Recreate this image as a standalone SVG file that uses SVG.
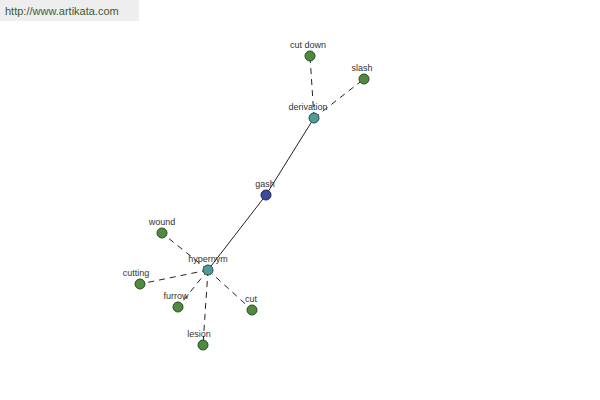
<svg xmlns="http://www.w3.org/2000/svg" width="600" height="400" viewBox="0 0 600 400">
<style>
text{font-family:"Liberation Sans",Arial,sans-serif;font-size:9px;fill:#333;text-anchor:middle}
.leaf{fill:#4f8a3f;stroke:#2a4a22;stroke-width:1}
.hub{fill:#4f9a9a;stroke:#2a4a4a;stroke-width:1}
.root{fill:#3b4a9a;stroke:#1e2550;stroke-width:1}
.solid{stroke:#222;stroke-width:1;fill:none}
.dash{stroke:#222;stroke-width:1;stroke-dasharray:6,5;fill:none}
</style>
<rect width="600" height="400" fill="#fff"/>
<rect x="0" y="0" width="139" height="21" fill="#eeeeee"/>
<text x="5" y="15" style="text-anchor:start;font-size:11px;fill:#3e5a32">http://www.artikata.com</text>
<g id="connectors">
<line class="solid" x1="266" y1="195" x2="314" y2="118"/>
<line class="solid" x1="266" y1="195" x2="208" y2="270"/>
<line class="dash" x1="314" y1="118" x2="310" y2="56"/>
<line class="dash" x1="314" y1="118" x2="364" y2="79"/>
<line class="dash" x1="208" y1="270" x2="162" y2="233"/>
<line class="dash" x1="208" y1="270" x2="140" y2="284"/>
<line class="dash" x1="208" y1="270" x2="178" y2="307"/>
<line class="dash" x1="208" y1="270" x2="252" y2="310"/>
<line class="dash" x1="208" y1="270" x2="203" y2="345"/>
</g>
<g id="gash"><circle class="root" cx="266" cy="195" r="5"/><text x="265" y="187">gash</text></g>
<g id="derivation"><circle class="hub" cx="314" cy="118" r="5"/><text x="308" y="110">derivation</text></g>
<g id="cut-down"><circle class="leaf" cx="310" cy="56" r="5"/><text x="308" y="48">cut down</text></g>
<g id="slash"><circle class="leaf" cx="364" cy="79" r="5"/><text x="362" y="71">slash</text></g>
<g id="hypernym"><circle class="hub" cx="208" cy="270" r="5"/><text x="208" y="262">hypernym</text></g>
<g id="wound"><circle class="leaf" cx="162" cy="233" r="5"/><text x="162" y="225">wound</text></g>
<g id="cutting"><circle class="leaf" cx="140" cy="284" r="5"/><text x="136" y="276">cutting</text></g>
<g id="furrow"><circle class="leaf" cx="178" cy="307" r="5"/><text x="176" y="299">furrow</text></g>
<g id="cut"><circle class="leaf" cx="252" cy="310" r="5"/><text x="251" y="302">cut</text></g>
<g id="lesion"><circle class="leaf" cx="203" cy="345" r="5"/><text x="199" y="337">lesion</text></g>
</svg>
